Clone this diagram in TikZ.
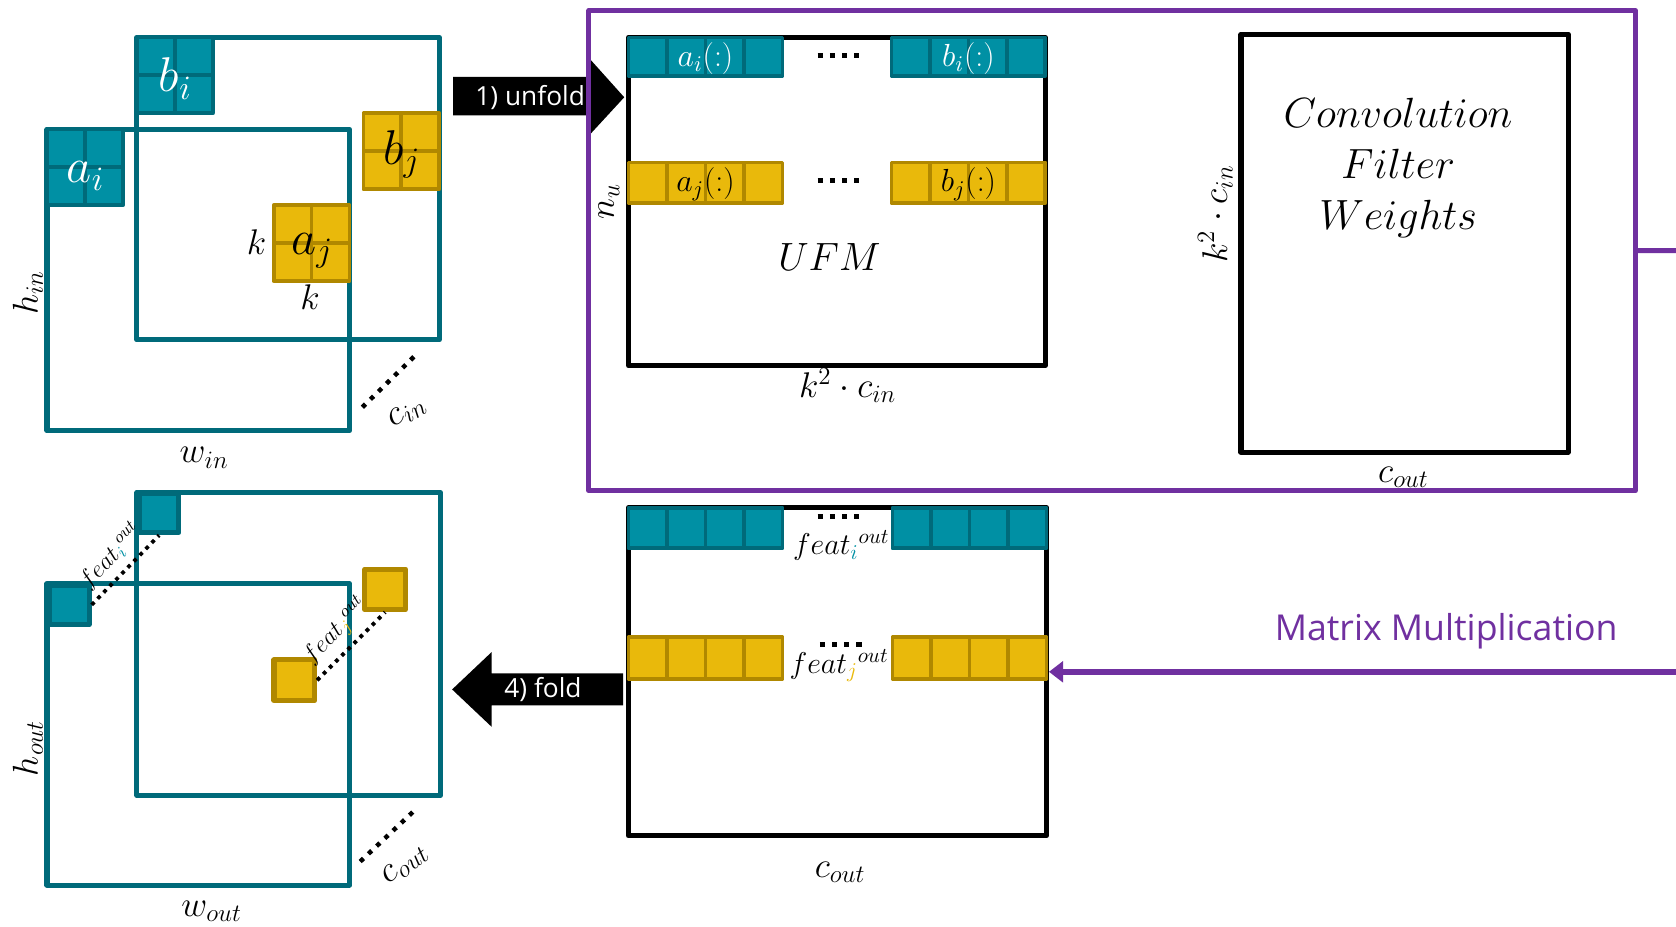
\RequirePackage{fix-cm}
\documentclass[tikz,border=0pt]{standalone}
\usepackage{amsmath}
\usepackage{fontspec}
\newfontfamily\sansfont{Open Sans}
\usetikzlibrary{arrows.meta, fit, positioning}

\definecolor{tealfill}{HTML}{0090A4}
\definecolor{tealline}{HTML}{006A7A}
\definecolor{goldfill}{HTML}{E9B90B}
\definecolor{goldline}{HTML}{B08800}
\definecolor{mmpurple}{HTML}{7030A0}

% a row of #4 cells of size #5 x #6, top-left corner at (#2,#3)
\newcommand{\cellrow}[6]{%
  \foreach \n in {1,...,#4}
    \draw[#1] ({#2+(\n-1)*#5},#3) rectangle ++(#5,#6);
}
% 2 x 2 filter window
\newcommand{\window}[4]{%
  \cellrow{#1}{#2}{#3}{2}{#4}{#4}
  \cellrow{#1}{#2}{#3+#4}{2}{#4}{#4}
}

\begin{document}
\begin{tikzpicture}[x=0.02cm, y=-0.02cm, line join=round,
    fmap/.style={draw=tealline, line width=2.7pt},
    matbox/.style={draw=black, line width=2.7pt, inner sep=0pt},
    mmframe/.style={draw=mmpurple, line width=2.7pt, inner sep=0pt},
    tealcell/.style={fill=tealfill, draw=tealline, line width=2pt},
    goldcell/.style={fill=goldfill, draw=goldline, line width=2pt},
    outwin/.style={minimum size=0.74cm, inner sep=0pt, anchor=north west, line width=2.7pt},
    winlab/.style={anchor=base, font=\fontsize{26}{30}\selectfont},
    dimlab/.style={font=\fontsize{19}{22}\selectfont},
    rowlab/.style={anchor=base, font=\fontsize{17}{20}\selectfont},
    featlab/.style={anchor=base, font=\fontsize{16}{19}\selectfont},
    chdots/.style={line width=2.4pt, dash pattern=on 2.4pt off 3.6pt},
    featdots/.style={line width=2pt, dash pattern=on 2pt off 2.6pt},
    rowdots/.style={line width=2.7pt, dash pattern=on 2.7pt off 3.8pt},
    steplab/.style={text=white, font=\sansfont\fontsize{14}{17}\selectfont},
    mmarrow/.style={draw=mmpurple, line width=3.2pt, -{Triangle[length=7.5pt, width=11pt]}}
  ]
  \useasboundingbox (0,0) rectangle (1568,867);

  % input feature map, two channels
  \draw[fmap] (128,35) rectangle (411,318);
  \draw[fmap] (44,121) rectangle (327,403);
  \window{tealcell}{128}{35}{35.5}
  \window{tealcell}{44}{121}{35.5}
  \window{goldcell}{340}{106}{35.5}
  \window{goldcell}{256}{192}{35.5}
  \node[winlab, text=white] (bi) at (164,86) {$b_i$};
  \node[winlab, text=white] (ai) at (80,171) {$a_i$};
  \node[winlab] (bj) at (376,154) {$b_j$};
  \node[winlab] (aj) at (292,238) {$a_j$};
  \node[dimlab, anchor=base] (kh) at (240,238) {$k$};
  \node[dimlab, anchor=base] (kv) at (290,290) {$k$};
  \node[dimlab, rotate=90] (hin) at (26,274) {$h_{in}$};
  \node[dimlab, anchor=base] (win) at (191,433) {$w_{in}$};
  \coordinate (cin0) at (339,381);
  \coordinate (cin1) at (388,333);
  \draw[chdots] (cin0) -- (cin1);
  \node[dimlab, rotate=32] (cin) at (381,386) {$c_{in}$};

  % 1) unfold
  \fill (424,72) -- (549,72) -- (549,52) -- (584,91) -- (549,129) -- (549,108) -- (424,108) -- cycle;
  \node[steplab] (unfold) at (496,91) {1) unfold};

  \node[mmframe, fit={(551,10) (1530,459)}] (mm) {};

  % unfolded feature matrix
  \node[matbox, fit={(588,35) (978,342)}] (ufm) {};
  \cellrow{tealcell}{588}{35}{4}{36}{36}
  \cellrow{tealcell}{834}{35}{4}{36}{36}
  \cellrow{goldcell}{588}{152}{4}{36}{38}
  \cellrow{goldcell}{834}{152}{4}{36}{38}
  \node[rowlab, text=white] (ail) at (660,62) {$a_i(:)$};
  \node[rowlab, text=white] (bil) at (906,62) {$b_i(:)$};
  \node[rowlab] (ajl) at (660,179) {$a_j(:)$};
  \node[rowlab] (bjl) at (906,179) {$b_j(:)$};
  \draw[rowdots] (765,52) -- (804,52);
  \draw[rowdots] (765,169) -- (804,169);
  \node[anchor=base, font=\fontsize{21}{24}\selectfont] (ufmlab) at (776,253) {$UFM$};
  \node[dimlab, rotate=90, anchor=south] (nu) at (ufm.west) {$n_u$};
  \node[dimlab, anchor=base] (ufmw) at (793,372) {$k^2\cdot c_{in}$};

  % filter weights
  \node[matbox, fit={(1161,32) (1467,423)}] (wts) {};
  \node[font=\fontsize{22.5}{27}\selectfont, align=center] (wtslab) at (1308,157)
    {$Convolution$\\$Filter$\\$Weights$};
  \node[dimlab, rotate=90] (wtsh) at (1137,200) {$k^2\cdot c_{in}$};
  \node[dimlab, anchor=base] (wtsw) at (1313,451) {$c_{out}$};

  \coordinate (rim) at (1568,234.5);
  \draw[draw=mmpurple, line width=2.7pt] (mm.east) -- (rim);

  % output matrix
  \node[matbox, fit={(588,475) (979,782)}] (out) {};
  \cellrow{tealcell}{588}{475}{4}{36}{38}
  \cellrow{tealcell}{835}{475}{4}{36}{38}
  \cellrow{goldcell}{588}{596}{4}{36}{39}
  \cellrow{goldcell}{835}{596}{4}{36}{39}
  \draw[rowdots] (765,483) -- (804,483);
  \draw[rowdots] (767,603) -- (806,603);
  \node[featlab] (fi) at (787,519) {$feat_{\color{tealfill}i}^{out}$};
  \node[featlab] (fj) at (785,630) {$feat_{\color{goldfill}j}^{out}$};
  \node[dimlab, anchor=base] (outw) at (786,821) {$c_{out}$};

  \draw[mmarrow] (rim |- out.east) -- (out.east);
  \node[text=mmpurple, font=\sansfont\fontsize{19}{22}\selectfont] (mmlab) at (1353,591) {Matrix Multiplication};

  % 4) fold
  \fill (583,630) -- (460,630) -- (460,610) -- (423,645) -- (460,680) -- (460,660) -- (583,660) -- cycle;
  \node[steplab] (fold) at (508,645) {4) fold};

  % output feature map
  \draw[fmap] (128,461) rectangle (412,744);
  \draw[fmap] (44,546) rectangle (327,828);
  \node[tealcell, outwin] (ti1) at (44,545) {};
  \node[tealcell, outwin] (ti2) at (128,459) {};
  \node[goldcell, outwin, minimum size=0.76cm] (gj1) at (254,615) {};
  \node[goldcell, outwin, minimum size=0.76cm] (gj2) at (339,530) {};
  \draw[featdots] (ti1.east) -- node[sloped, above, font=\fontsize{13}{15}\selectfont]
    {$feat_{\color{tealfill}i}^{out}$} (ti2.south);
  \draw[featdots] (gj1.east) -- node[sloped, above, font=\fontsize{13}{15}\selectfont]
    {$feat_{\color{goldfill}j}^{out}$} (gj2.south);
  \node[dimlab, rotate=90] (hout) at (26,700) {$h_{out}$};
  \node[dimlab, anchor=base] (wout) at (198,857) {$w_{out}$};
  \coordinate (cout0) at (337,806);
  \coordinate (cout1) at (388,758);
  \draw[chdots] (cout0) -- (cout1);
  \node[dimlab, rotate=38] (coutl) at (379,809) {$c_{out}$};
\end{tikzpicture}
\end{document}
